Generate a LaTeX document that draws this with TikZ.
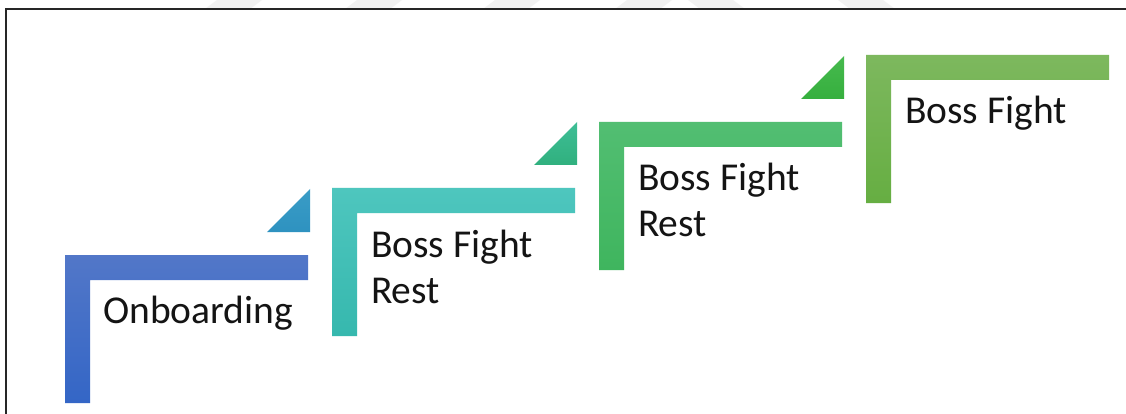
\documentclass[tikz,border=0pt]{standalone}
\usepackage{fontspec}
\setmainfont{Carlito}
\definecolor{blueA}{HTML}{5277C8}
\definecolor{blueB}{HTML}{3466C6}
\definecolor{triA}{HTML}{3A9CC6}
\definecolor{triB}{HTML}{2E92C0}
\definecolor{tealA}{HTML}{4EC6BE}
\definecolor{tealB}{HTML}{36B8AE}
\definecolor{triC}{HTML}{3EBE96}
\definecolor{triD}{HTML}{30B07E}
\definecolor{grnA}{HTML}{52BE72}
\definecolor{grnB}{HTML}{3FB55E}
\definecolor{triE}{HTML}{46BA4E}
\definecolor{triF}{HTML}{36AF3E}
\definecolor{oliA}{HTML}{7DB85E}
\definecolor{oliB}{HTML}{66AE42}
\newcommand\stairbar[4]{%
  \shade[top color=#3,bottom color=#4]
    (#1,#2) -- ++(243,0) -- ++(0,25) -- ++(-218,0) -- ++(0,123) -- ++(-25,0) -- cycle;}
\newcommand\stairtip[4]{%
  \shade[top color=#3,bottom color=#4]
    (#1+202,#2-23) -- (#1+245,#2-23) -- (#1+245,#2-66) -- cycle;}
\begin{document}
\begin{tikzpicture}[x=1pt,y=-1pt,
  lbl/.style={font=\fontsize{39.5}{46}\selectfont, inner sep=0pt,
              anchor=base west, align=left, text=black!92},
  mark stripe/.style={fill=black!5}]
\useasboundingbox (0,0) rectangle (1126,414);
\fill[white] (0,0) rectangle (1126,414);
% faint stripes above the frame
\foreach \sx in {205,345,483,615}
  \fill[mark stripe] (\sx,9) -- ++(45,0) -- ++(12,-9) -- ++(-45,0) -- cycle;
\foreach \sx in {700,850}
  \fill[mark stripe] (\sx,9) -- ++(45,0) -- ++(-12,-9) -- ++(-45,0) -- cycle;
% frame
\draw[line width=2pt, black!85] (6,414) -- (6,9) -- (1126,9);
% steps
\stairbar{65}{255}{blueA}{blueB}
\stairtip{65}{255}{triA}{triB}
\stairbar{332}{188}{tealA}{tealB}
\stairtip{332}{188}{triC}{triD}
\stairbar{599}{122}{grnA}{grnB}
\stairtip{599}{122}{triE}{triF}
\stairbar{866}{55}{oliA}{oliB}
% labels (a two-line label is placed by its last baseline)
\node[lbl] (onb) at (103,323) {Onboarding};
\node[lbl] (bfr1) at (371,303) {Boss Fight\\Rest};
\node[lbl] (bfr2) at (638,236) {Boss Fight\\Rest};
\node[lbl] (bf) at (905,124) {Boss Fight};
\end{tikzpicture}
\end{document}
